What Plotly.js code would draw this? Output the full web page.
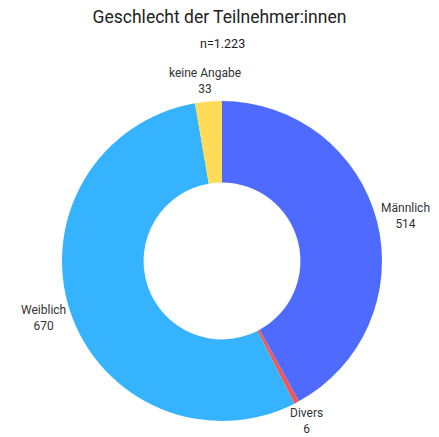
<!DOCTYPE html>
<html><head><meta charset="utf-8">
<script src="https://cdn.plot.ly/plotly-3.0.1.min.js"></script>
<style>html,body{margin:0;padding:0;background:#fff}#c{width:439px;height:437px}</style>
</head><body><div id="c"></div>
<script>
const categories = ["Männlich", "Divers", "Weiblich", "keine Angabe"];
const values = [514, 6, 670, 33];
const colors = ["#4F6BFF", "#F25757", "#36B3FF", "#FFDB58"];
const titleText = "Geschlecht der Teilnehmer:innen";
const subtitleText = "n=1.223";

const W = 439, H = 437;
const M = {l: 62, r: 57, t: 101, b: 16};
const pw = W - M.l - M.r, ph = H - M.t - M.b;
const R = Math.min(pw, ph) / 2;
const cx = M.l + pw / 2, cy = M.t + ph / 2;

const ctx = document.createElement("canvas").getContext("2d");
ctx.font = "12px Roboto";
const total = values.reduce((a, b) => a + b, 0);
let cum = 0;
const annotations = [];
categories.forEach((cat, i) => {
  const mid = (cum + values[i] / 2) / total * 2 * Math.PI;
  cum += values[i];
  const dx = Math.sin(mid), dy = -Math.cos(mid);
  const hw = Math.max(ctx.measureText(cat).width, ctx.measureText(String(values[i])).width) / 2;
  const hh = 15.5;
  const ax = cx + dx * (R + 5), ay = cy + dy * (R + 5);
  const px = ax + dx * hw, py = ay + dy * hh;
  annotations.push({
    text: cat + "<br>" + values[i], xref: "paper", yref: "paper",
    x: (px - M.l) / pw, y: (H - M.b - py) / ph,
    xanchor: "center", yanchor: "middle", align: "center", showarrow: false,
    font: {size: 12, color: "#333", family: "Roboto"}
  });
});
annotations.push({text: subtitleText, xref: "paper", yref: "paper", x: 0.5, y: 1, yshift: 58, xanchor: "center", yanchor: "middle", showarrow: false, font: {size: 12.5, color: "#222", family: "Roboto"}});

Plotly.newPlot("c", [{
  type: "pie",
  labels: categories,
  values: values,
  hole: 0.49,
  sort: false,
  direction: "clockwise",
  rotation: 0,
  marker: {colors: colors, line: {width: 0}},
  textinfo: "none",
  hoverinfo: "label+value",
  showlegend: false
}], {
  width: W, height: H,
  margin: M,
  font: {family: "Roboto", color: "#222"},
  title: {text: titleText, x: 0.5, xanchor: "center", y: 0.962, yanchor: "middle", font: {size: 17.5, color: "#222", family: "Roboto"}},
  annotations: annotations,
  paper_bgcolor: "#fff"
}, {displayModeBar: false, staticPlot: true});
</script></body></html>
